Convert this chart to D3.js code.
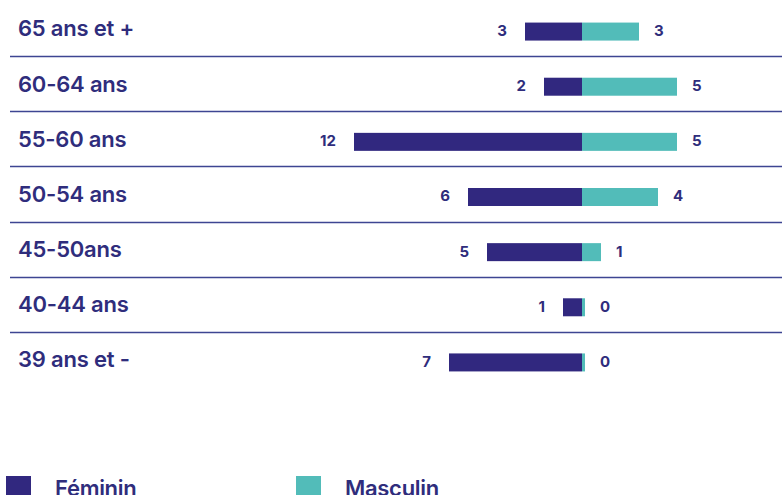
<!DOCTYPE html>
<html><head><meta charset="utf-8">
<script src="https://cdn.jsdelivr.net/npm/d3@7"></script>
<style>
html,body{margin:0;padding:0;background:#fff;overflow:hidden}
svg{display:block}
text{font-family:Inter,"Liberation Sans",sans-serif}
</style></head>
<body>
<svg id="chart" width="782" height="495"></svg>
<script>
const categories = ["65 ans et +","60-64 ans","55-60 ans","50-54 ans","45-50ans","40-44 ans","39 ans et -"];
const feminin = [3,2,12,6,5,1,7];
const masculin = [3,5,5,4,1,0,0];
const seriesNames = ["Féminin","Masculin"];

const W=782,H=495;
const navy="#31287f", teal="#52bcb9", ink="#2f2d7c", rule="#3d4592";
const svg=d3.select("#chart");

const y=d3.scaleBand().domain(categories).range([1,387]).paddingInner(0).paddingOuter(0);
const x=d3.scaleLinear().domain([-12,5]).range([354,677]);
const barH=18, barOff=3;

// separators
svg.selectAll("line.sep").data(categories.slice(1)).join("line")
  .attr("x1",10).attr("x2",W)
  .attr("y1",d=>Math.round(y(d))+0.5).attr("y2",d=>Math.round(y(d))+0.5)
  .attr("stroke",rule).attr("stroke-width",1.5);

// category labels
svg.selectAll("text.cat").data(categories).join("text")
  .attr("x",18).attr("y",d=>y(d)+y.bandwidth()/2)
  .attr("dy","0.36em").attr("fill",ink)
  .attr("font-size",22).attr("font-weight",600).attr("letter-spacing","-0.2")
  .text(d=>d);

const rows=categories.map((c,i)=>({c,f:feminin[i],m:masculin[i]}));
const cy=d=>y(d.c)+y.bandwidth()/2+barOff;

// feminin bars
svg.selectAll("rect.f").data(rows).join("rect")
  .attr("x",d=>x(-d.f)).attr("width",d=>x(0)-x(-d.f))
  .attr("y",d=>cy(d)-barH/2).attr("height",barH).attr("fill",navy);
// masculin bars
svg.selectAll("rect.m").data(rows).join("rect")
  .attr("x",x(0)).attr("width",d=>Math.max(x(d.m)-x(0),3))
  .attr("y",d=>cy(d)-barH/2).attr("height",barH).attr("fill",teal);

// value labels
svg.selectAll("text.fv").data(rows).join("text")
  .attr("x",d=>x(-d.f)-18).attr("y",d=>cy(d)-1).attr("dy","0.36em")
  .attr("text-anchor","end").attr("fill",ink).attr("font-size",15).attr("font-weight",700)
  .text(d=>d.f);
svg.selectAll("text.mv").data(rows).join("text")
  .attr("x",d=>x(0)+Math.max(x(d.m)-x(0),3)+15).attr("y",d=>cy(d)-1).attr("dy","0.36em")
  .attr("text-anchor","start").attr("fill",ink).attr("font-size",15).attr("font-weight",700)
  .text(d=>d.m);

// legend
const lg=d3.scaleOrdinal().domain(seriesNames).range([6,296]);
const lc=d3.scaleOrdinal().domain(seriesNames).range([navy,teal]);
svg.selectAll("rect.lg").data(seriesNames).join("rect")
  .attr("x",d=>lg(d)).attr("y",476).attr("width",25).attr("height",22).attr("fill",d=>lc(d));
svg.selectAll("text.lg").data(seriesNames).join("text")
  .attr("x",d=>lg(d)+49).attr("y",496).attr("fill",ink)
  .attr("font-size",22).attr("font-weight",600).attr("letter-spacing","-0.3")
  .text(d=>d);
</script>
</body></html>
